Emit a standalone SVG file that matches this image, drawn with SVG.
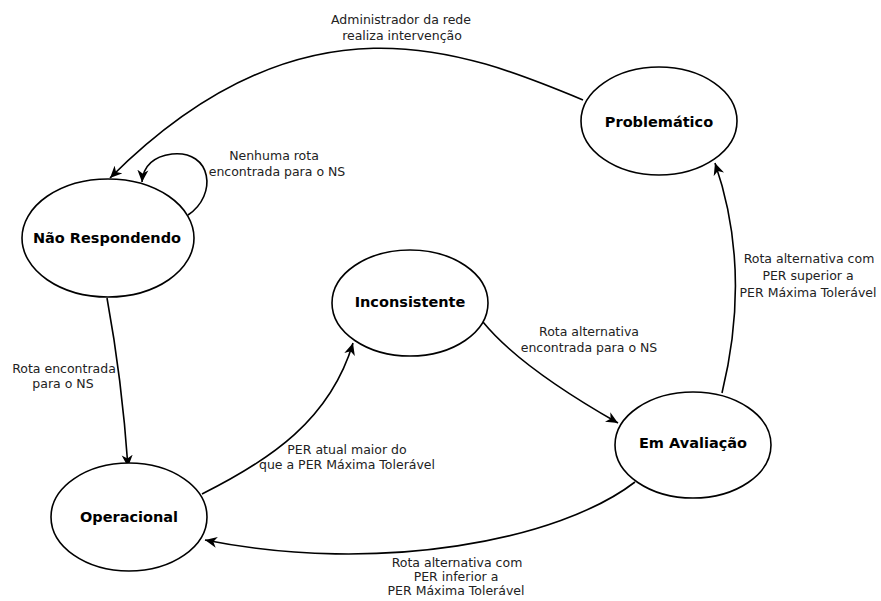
<svg xmlns="http://www.w3.org/2000/svg" width="881" height="601" viewBox="0 0 881 601">
<style>
.node ellipse{fill:#fff;stroke:#000;stroke-width:1.6}
.node text{font-family:"DejaVu Sans",sans-serif;font-weight:bold;font-size:14.5px;fill:#000;text-anchor:middle;dominant-baseline:central}
.edge{fill:none;stroke:#000;stroke-width:1.6}
.lbl{font-family:"DejaVu Sans",sans-serif;font-size:12.5px;fill:#222;text-anchor:middle}
</style>
<defs>
<marker id="arr" markerUnits="userSpaceOnUse" markerWidth="13" markerHeight="12" refX="12" refY="6" orient="auto" viewBox="0 0 13 12">
<path d="M0,0.5 L12,6 L0,11.5 L3.5,6 z" fill="#000"/>
</marker>
</defs>
<rect width="881" height="601" fill="#fff"/>
<g id="connectors">
<path class="edge" d="M583,100 C463,50 302,-14 110,178" marker-end="url(#arr)"/>
<path class="edge" d="M188,215 C218,195 212,150 172,154 C150,157 143,168 142,182" marker-end="url(#arr)"/>
<path class="edge" d="M107,298 Q122,380 128,467" marker-end="url(#arr)"/>
<path class="edge" d="M202,494 C270,460 330,420 353,343" marker-end="url(#arr)"/>
<path class="edge" d="M483,322 C510,355 560,390 618,423" marker-end="url(#arr)"/>
<path class="edge" d="M722,393 Q752,270 715,163" marker-end="url(#arr)"/>
<path class="edge" d="M635,482 C560,540 380,575 205,540" marker-end="url(#arr)"/>
</g>
<g id="labels">
<text class="lbl" x="401" y="24">Administrador da rede</text>
<text class="lbl" x="402" y="40">realiza intervenção</text>
<text class="lbl" x="274" y="160">Nenhuma rota</text>
<text class="lbl" x="277" y="176">encontrada para o NS</text>
<text class="lbl" x="589" y="336">Rota alternativa</text>
<text class="lbl" x="589" y="352">encontrada para o NS</text>
<text class="lbl" x="347" y="454">PER atual maior do</text>
<text class="lbl" x="347" y="469">que a PER Máxima Tolerável</text>
<text class="lbl" x="809" y="263">Rota alternativa com</text>
<text class="lbl" x="808" y="280">PER superior a</text>
<text class="lbl" x="808" y="297">PER Máxima Tolerável</text>
<text class="lbl" x="64" y="373">Rota encontrada</text>
<text class="lbl" x="63" y="388">para o NS</text>
<text class="lbl" x="457" y="567">Rota alternativa com</text>
<text class="lbl" x="456" y="581">PER inferior a</text>
<text class="lbl" x="456" y="595">PER Máxima Tolerável</text>
</g>
<g id="problematico" class="node"><ellipse cx="659" cy="121" rx="78" ry="54"/><text x="659" y="122">Problemático</text></g>
<g id="nao-respondendo" class="node"><ellipse cx="108" cy="238" rx="86" ry="59"/><text x="107" y="238">Não Respondendo</text></g>
<g id="inconsistente" class="node"><ellipse cx="410" cy="303" rx="78" ry="53"/><text x="410" y="302">Inconsistente</text></g>
<g id="em-avaliacao" class="node"><ellipse cx="693" cy="445" rx="78" ry="53"/><text x="693" y="443">Em Avaliação</text></g>
<g id="operacional" class="node"><ellipse cx="129" cy="517" rx="78" ry="54"/><text x="129" y="517">Operacional</text></g>
</svg>
